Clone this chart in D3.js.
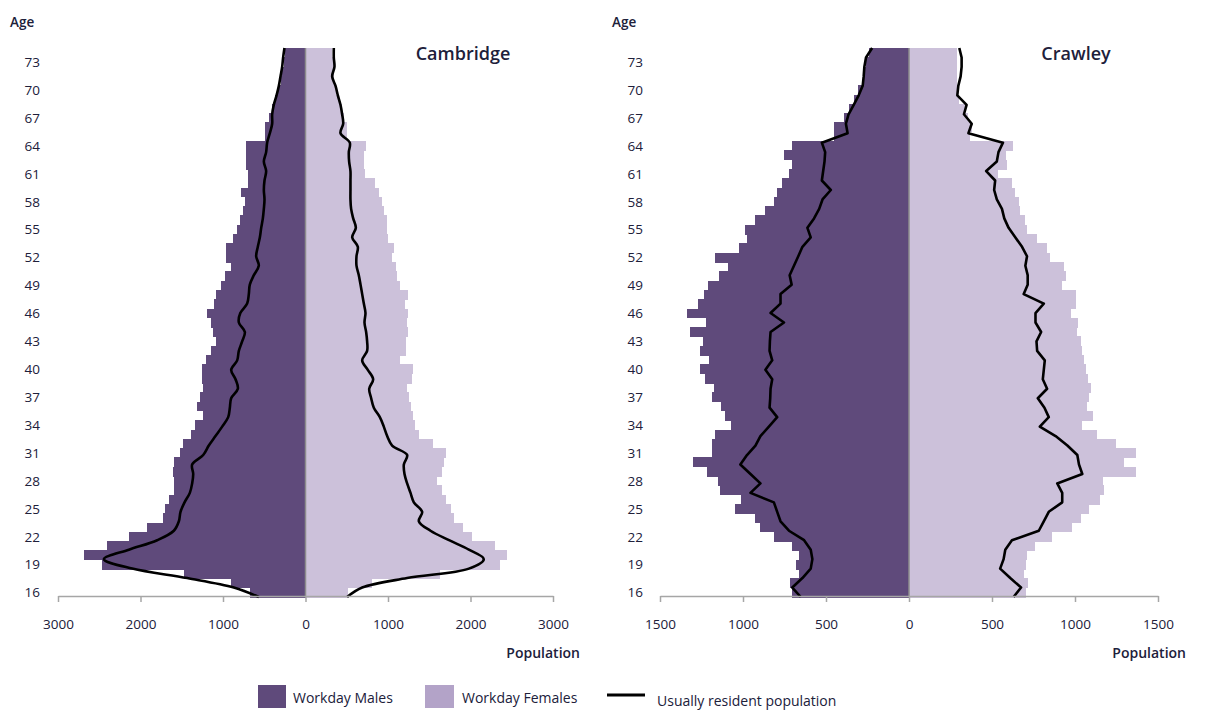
<!DOCTYPE html>
<html>
<head>
<meta charset="utf-8">
<script src="https://cdn.jsdelivr.net/npm/d3@7"></script>
<style>
  html, body { margin: 0; padding: 0; background: #fff; }
  svg { display: block; font-family: "Open Sans", "Liberation Sans", sans-serif; }
</style>
</head>
<body>
<svg id="chart" width="1205" height="713"></svg>
<script>
// ---------- DATA ----------
const ages = [16,17,18,19,20,21,22,23,24,25,26,27,28,29,30,31,32,33,34,35,36,37,38,39,40,
  41,42,43,44,45,46,47,48,49,50,51,52,53,54,55,56,57,58,59,60,61,62,63,64,65,66,67,68,69,70,71,72,73,74];
const ageTickLabels = [16,19,22,25,28,31,34,37,40,43,46,49,52,55,58,61,64,67,70,73];

// Cambridge
const camMaleWorkday = [667,909,1475,2464,2687,2412,2141,1919,1725,1709,1656,1596,1588,1604,1588,1527,1483,1386,1345,1244,
  1321,1281,1240,1252,1260,1212,1151,1083,1123,1151,1200,1111,1079,1022,970,909,958,958,877,836,
  788,760,739,780,699,699,727,727,720,485,485,440,404,364,335,303,283,263,245];
const camFemaleWorkday = [520,800,1636,2363,2444,2303,2020,1911,1798,1765,1709,1656,1596,1656,1677,1709,1547,1374,1333,1305,
  1273,1252,1232,1293,1305,1151,1224,1224,1244,1232,1244,1200,1244,1151,1111,1091,1050,1071,998,982,
  982,957,929,889,840,727,715,707,739,505,505,470,444,400,370,340,351,343,323];
const camMaleResident = [566,869,1434,2100,2444,2141,1798,1596,1535,1515,1466,1402,1374,1361,1374,1240,1172,1091,1010,937,
  917,901,820,848,901,828,808,768,735,808,790,707,687,675,626,566,598,578,553,537,
  517,505,497,505,497,477,505,477,465,432,404,404,384,351,323,303,283,271,255];
const camFemaleResident = [505,687,1232,1980,2161,1980,1740,1515,1374,1414,1313,1273,1232,1200,1192,1232,1050,990,949,901,
  828,796,772,820,755,687,747,747,735,715,727,707,687,667,646,618,618,634,566,610,
  578,553,545,545,545,545,529,525,537,424,457,444,424,392,364,323,351,343,343];

// Crawley
const crawMaleWorkday = [707,719,663,683,663,703,814,895,925,1046,1010,1137,1151,1218,1299,1184,1188,1168,1071,1111,
  1131,1188,1172,1228,1258,1204,1258,1242,1319,1224,1339,1273,1232,1208,1147,1091,1168,1026,976,986,
  925,865,814,794,764,723,707,753,703,450,450,390,359,329,309,279,275,262,238];
const crawFemaleWorkday = [707,715,691,705,711,762,863,984,1034,1085,1151,1176,1166,1368,1297,1368,1246,1135,1044,1111,
  1075,1085,1099,1079,1065,1054,1044,1034,1010,1018,975,1004,1004,923,943,933,852,832,772,711,
  701,671,661,640,620,539,590,586,626,368,378,358,340,300,295,290,290,290,287];
const crawMaleResident = [652,703,642,592,582,592,632,723,774,794,814,955,895,955,1016,976,925,895,844,794,
  840,836,834,824,865,824,840,838,834,753,834,774,774,707,719,693,667,642,592,612,
  572,541,521,471,525,517,509,505,525,370,380,364,333,303,279,273,269,259,222];
const crawFemaleResident = [630,675,610,549,570,580,620,782,812,842,923,923,893,1044,1024,1014,954,883,788,842,
  816,776,832,806,812,818,772,768,796,762,762,812,691,715,715,701,711,681,640,600,
  574,560,529,513,519,465,529,539,566,358,378,331,347,291,297,311,317,317,303];

const camTicks = [-3000,-2000,-1000,0,1000,2000,3000];
const crawTicks = [-1500,-1000,-500,0,500,1000,1500];

const legendLabels = ["Workday Males", "Workday Females", "Usually resident population"];

// ---------- STYLE ----------
const C_MALE = "#5f4a7b";
const C_FEMALE = "#ccc1da";
const C_FEMALE_LEG = "#b3a3c8";
const C_TEXT = "#20203a";

const svg = d3.select("#chart");
const TOP = 48, BOTTOM = 597, AXIS_Y = 596;

function panel(cfg) {
  const g = svg.append("g");
  const x = d3.scaleLinear().domain([-cfg.max, cfg.max]).range([cfg.x0, cfg.x1]);
  const order = ages.slice().reverse();
  const y = d3.scaleBand().domain(order).range([TOP, BOTTOM]).padding(0);
  const yp = d3.scalePoint().domain(order).range([TOP, BOTTOM]);

  // bars
  g.append("g").attr("shape-rendering", "crispEdges")
    .selectAll("rect").data(ages).join("rect")
    .attr("x", (a, i) => x(-cfg.male[i]))
    .attr("width", (a, i) => x(0) - x(-cfg.male[i]))
    .attr("y", a => y(a))
    .attr("height", y.bandwidth() + 0.6)
    .attr("fill", C_MALE);
  g.append("g").attr("shape-rendering", "crispEdges")
    .selectAll("rect").data(ages).join("rect")
    .attr("x", x(0))
    .attr("width", (a, i) => x(cfg.female[i]) - x(0))
    .attr("y", a => y(a))
    .attr("height", y.bandwidth() + 0.6)
    .attr("fill", C_FEMALE);

  // centre line
  g.append("line")
    .attr("x1", x(0)).attr("x2", x(0))
    .attr("y1", TOP).attr("y2", AXIS_Y)
    .attr("stroke", "#8c8c8c").attr("stroke-width", 1.5);

  // resident lines
  const line = d3.line().curve(cfg.curve);
  const mPts = ages.map((a, i) => [x(-cfg.mRes[i]), yp(a)]);
  const fPts = ages.map((a, i) => [x(cfg.fRes[i]), yp(a)]);
  [mPts, fPts].forEach(pts => {
    g.append("path").attr("d", line(pts))
      .attr("fill", "none").attr("stroke", "#000")
      .attr("stroke-width", 2.6).attr("stroke-linejoin", "round");
  });

  // x axis
  const ax = g.append("g").attr("transform", `translate(0,${AXIS_Y})`)
    .call(d3.axisBottom(x).tickValues(cfg.ticks).tickFormat(d => Math.abs(d))
      .tickSize(6).tickSizeOuter(0).tickPadding(17));
  ax.select(".domain").attr("stroke", "#a6a6a6").attr("stroke-width", 1.5);
  ax.selectAll(".tick line").attr("stroke", "#a6a6a6").attr("stroke-width", 1.5);
  ax.selectAll(".tick text").attr("fill", C_TEXT)
    .style("font-size", "13.5px").style("font-family", "'Open Sans', sans-serif");

  // age labels
  g.append("g").selectAll("text").data(ageTickLabels).join("text")
    .attr("x", cfg.ageX).attr("y", a => y(a) + y.bandwidth() / 2)
    .attr("text-anchor", "end").attr("dominant-baseline", "central")
    .attr("fill", C_TEXT).style("font-size", "13.5px")
    .text(d => d);

  g.append("text").attr("x", cfg.ageTitleX).attr("y", 22)
    .attr("dominant-baseline", "central").attr("fill", C_TEXT)
    .style("font-size", "13.5px").style("font-weight", 600).text("Age");

  g.append("text").attr("x", cfg.titleX).attr("y", 53)
    .attr("text-anchor", "middle").attr("dominant-baseline", "central")
    .attr("fill", C_TEXT).style("font-size", "18px").style("font-weight", 600)
    .text(cfg.title);

  g.append("text").attr("x", cfg.popX).attr("y", 652)
    .attr("text-anchor", "end").attr("dominant-baseline", "central")
    .attr("fill", C_TEXT).style("font-size", "14px").style("font-weight", 600)
    .text("Population");
}

panel({ title: "Cambridge", max: 3000, x0: 58, x1: 553, ticks: camTicks,
  male: camMaleWorkday, female: camFemaleWorkday, mRes: camMaleResident, fRes: camFemaleResident,
  curve: d3.curveCatmullRom.alpha(0.5), ageX: 40, ageTitleX: 10, titleX: 463, popX: 580 });

panel({ title: "Crawley", max: 1500, x0: 660, x1: 1158, ticks: crawTicks,
  male: crawMaleWorkday, female: crawFemaleWorkday, mRes: crawMaleResident, fRes: crawFemaleResident,
  curve: d3.curveLinear, ageX: 643, ageTitleX: 612, titleX: 1076, popX: 1186 });

// legend
const lg = svg.append("g");
lg.append("rect").attr("x", 258).attr("y", 685).attr("width", 28).attr("height", 23).attr("fill", C_MALE);
lg.append("text").attr("x", 293).attr("y", 697).attr("dominant-baseline", "central")
  .attr("fill", C_TEXT).style("font-size", "14px").text(legendLabels[0]);
lg.append("rect").attr("x", 425).attr("y", 685).attr("width", 29).attr("height", 23).attr("fill", C_FEMALE_LEG);
lg.append("text").attr("x", 462).attr("y", 697).attr("dominant-baseline", "central")
  .attr("fill", C_TEXT).style("font-size", "14px").text(legendLabels[1]);
lg.append("line").attr("x1", 607).attr("x2", 645).attr("y1", 695).attr("y2", 695)
  .attr("stroke", "#000").attr("stroke-width", 3);
lg.append("text").attr("x", 657).attr("y", 700).attr("dominant-baseline", "central")
  .attr("fill", C_TEXT).style("font-size", "14px").text(legendLabels[2]);
</script>
</body>
</html>
